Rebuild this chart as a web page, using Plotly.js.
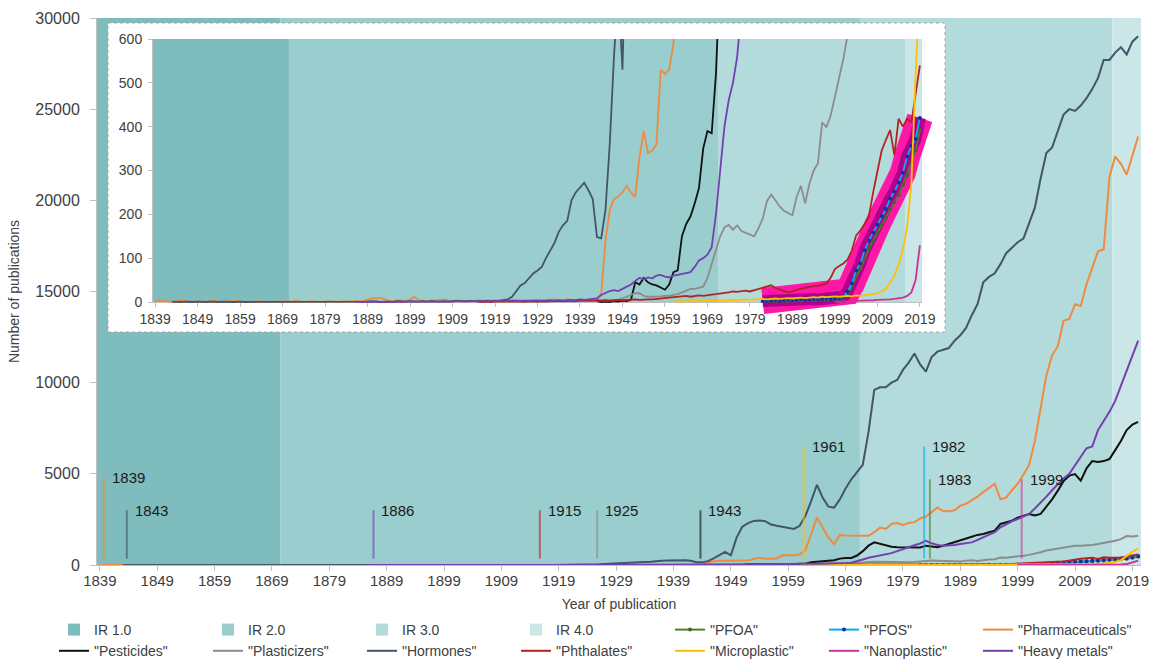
<!DOCTYPE html>
<html><head><meta charset="utf-8">
<script src="https://cdn.plot.ly/plotly-3.0.1.min.js"></script>
<style>html,body{margin:0;padding:0;background:#fff}#chart{width:1160px;height:662px}</style>
</head><body><div id="chart"></div>
<script>
// ---------------- DATA ----------------
const firstYear = 1839, lastYear = 2020, insetLastYear = 2019;
const mainMax = 30000, insetMax = 600;

const irNames = ['IR 1.0', 'IR 2.0', 'IR 3.0', 'IR 4.0'];
const irStart = [1839, 1871, 1972, 2016];
const irEnd   = [1870, 1971, 2015, 2020];

const seriesNames = ['"PFOA"', '"PFOS"', '"Pharmaceuticals"', '"Pesticides"', '"Plasticizers"',
                     '"Hormones"', '"Phthalates"', '"Microplastic"', '"Nanoplastic"', '"Heavy metals"'];
const seriesFirstYear = [1983, 1982, 1839, 1943, 1925, 1843, 1915, 1961, 1999, 1886];

const pfoa = [1,2,2,3,2,3,3,4,3,4, 5,4,5,6,5,6,7,6,9,18, 34,58,76,98,122,140,158,176,192,212,
  228,244,268,290,318,346,392,450];
const pfos = [2,3,3,4,3,4,5,4,5,6, 5,6,7,6,7,8,7,8,9,12, 24,42,72,88,118,140,158,176,196,212,
  236,252,272,295,332,356,372,420,490];
const pharmaceuticals = [
  3,4,3,1,0,1,5,2,0,1,  1,0,1,2,3,1,0,1,2,3,  1,0,1,0,2,1,0,1,1,0,  1,2,0,3,1,0,1,2,1,0,
  1,2,1,0,1,2,1,2,1,3,  5,9,8,10,6,3,2,4,3,2,  5,12,4,3,2,4,3,5,6,3,  2,4,3,2,3,2,4,3,2,3,
  4,3,2,4,3,5,4,3,4,5,  4,3,5,4,6,5,4,6,5,4,  6,5,4,6,8,20,140,210,235,240,
  250,265,250,240,330,390,340,345,360,530,  520,530,590,800,1700,2600,2050,1500,1150,1650,
  1620,1620,1600,1580,1600,1800,2050,1980,2250,2300,  2200,2300,2350,2550,2650,2900,3150,2950,2950,3000,
  3250,3350,3550,3750,4000,4250,4450,3600,3700,4100,  4450,4950,5500,6800,8700,10400,11500,12000,13400,13500,
  14300,14200,15400,16300,17200,17300,21300,22400,22000,21400,  22500,23500];
const pesticides = [
  2,0,1,0,2,1,3,2,5,45,  40,55,45,40,38,32,28,40,68,72,  150,178,195,225,260,350,390,385,520,760,
  1060,1240,1150,1080,1000,980,970,950,940,960,  1060,1020,970,1060,1150,1240,1350,1430,1550,1650,
  1700,1800,1880,2250,2350,2430,2600,2720,2800,2720,  2800,3200,3600,4080,4600,4900,4990,4620,5300,5700,
  5650,5700,5810,6300,6800,7400,7700,7850];
const plasticizers = [
  1,0,1,1,0,1,2,1,1,2,  1,2,2,1,3,2,2,3,3,4,  4,3,4,5,8,12,16,20,20,14,  12,12,12,13,14,14,16,18,22,26,
  30,30,33,35,55,85,120,150,170,176,  165,175,162,158,155,150,168,190,230,245,
  232,218,208,202,198,240,265,225,270,300,  316,410,399,425,470,510,555,610,700,790,
  850,900,970,1010,1060,1050,1060,1100,1150,1200,  1240,1330,1420,1590,1560,1600];
const hormones = [
  1,0,0,1,0,0,1,0,0,1,  0,0,1,0,0,0,1,0,0,1,  0,1,0,0,1,0,0,0,1,0,  0,1,0,0,1,1,0,0,1,0,
  1,0,0,1,1,0,1,2,1,0,  1,1,0,2,1,1,2,1,1,2,  1,2,1,1,2,1,2,2,1,2,  2,1,2,2,3,2,2,3,4,6,
  12,25,38,43,55,65,72,80,100,118,  135,160,175,185,232,250,262,272,255,235,
  148,145,210,360,560,720,530,1500,2100,2300,  2420,2440,2400,2220,2150,2080,2050,1980,2150,2700,
  3500,4400,3700,3200,3150,3600,4200,4700,5100,5500,  7300,9600,9750,9750,10000,10150,10700,11100,11600,11000,
  10600,11400,11700,11800,11900,12300,12600,13000,13700,14300,  15500,15800,16000,16500,17100,17400,17700,17900,18700,19600,
  21200,22600,22900,23800,24700,25000,24900,25200,25600,26100,  26700,27700,27700,28100,28400,28000,28700,29000];
const phthalates = [
  1,0,1,0,1,1,0,1,1,0,  1,1,2,1,1,2,1,2,2,1,  2,2,3,2,3,3,2,3,4,3,  4,3,4,5,4,5,5,6,5,6,
  6,6,7,8,9,10,11,12,13,14,  12,14,15,14,16,17,18,19,21,22,  24,23,25,26,24,27,30,32,35,38,
  32,28,25,22,24,28,30,33,35,36,  37,40,42,55,75,82,88,97,118,152,
  163,178,195,250,300,345,370,392,335,418,  400,418,410,470,540,580];
const microplastic = [
  2,1,2,1,2,3,2,3,2,3,  3,4,3,4,5,4,5,6,5,6,  6,7,6,7,8,7,8,9,8,9,  10,9,10,11,10,12,11,12,13,12,
  13,14,13,15,14,15,16,18,20,24,  30,45,60,85,120,170,270,520,720,900];
const nanoplastic = [1,0,1,1,2,2,3,3,4,4, 5,5,6,6,7,8,10,14,22,50, 130,240];
const heavyMetals = [
  1,0,0,1,0,1,0,0,1,0,  1,0,1,1,0,1,1,0,1,1,  1,1,0,1,2,1,1,2,1,1,  2,1,2,2,1,2,2,3,2,2,
  3,2,3,3,2,3,4,3,4,3,  4,5,4,6,5,6,7,8,16,20,  25,27,25,30,35,40,48,55,52,56,
  54,60,62,58,56,60,62,64,66,68,  80,95,100,108,125,200,300,400,460,500,
  560,650,760,880,980,1080,1180,1330,1190,1100,  1060,1060,1100,1150,1200,1240,1380,1520,1650,1800,
  2070,2250,2400,2520,2650,2800,3100,3400,3750,4100,  4450,4750,5000,5450,5900,6400,6500,7400,7900,8400,
  9000,9800,10700,11400,12300];
const seriesValues = [pfoa, pfos, pharmaceuticals, pesticides, plasticizers,
                      hormones, phthalates, microplastic, nanoplastic, heavyMetals];

// first publication milestones
const milestoneYears = [1839, 1843, 1886, 1915, 1925, 1943, 1961, 1982, 1983, 1999];
const milestoneSeries = [2, 5, 9, 6, 4, 3, 7, 1, 0, 8];

// ---------------- STYLE ----------------
const irColors = ['#7ebcbd', '#99cdce', '#b3dbdb', '#cbe6e6'];
const seriesColors = ['#4f7f2f', '#00b0f0', '#ee8b3f', '#111111', '#8c8c8c',
                      '#44546a', '#b52222', '#ffc000', '#cc3399', '#7440b0'];
const markerColors = ['#3d6b24', '#1f2a9c'];   // PFOA, PFOS markers
const milestoneTop = [4800, 3000, 3000, 3000, 3000, 3000, 6500, 6500, 4700, 4700];
const milestoneBottom = 350, milestoneShift = 0.7;
const FONT = 'Liberation Sans, Arial, sans-serif';
const W = 1160, H = 662;
const fx = p => p / W, fy = p => 1 - p / H;
const MAIN = {l: 97, r: 1141, t: 18, b: 565};
const BOX = {l: 108, r: 945, t: 23, b: 332};
const INS = {l: 153, r: 922, t: 39, b: 302};
const OV = {r: 932, b: 322};

// ---------------- BUILD ----------------
const xsOf = i => seriesValues[i].map((_, k) => seriesFirstYear[i] + k);
const lineTrace = (i, xs, ys, axX, axY, width, legend) => {
  const t = {
    type: 'scatter', mode: i < 2 ? 'lines+markers' : 'lines', name: seriesNames[i],
    x: xs, y: ys, xaxis: axX, yaxis: axY, showlegend: legend,
    line: {color: seriesColors[i], width: width}, hoverinfo: 'x+y+name'
  };
  if (i < 2) t.marker = {color: markerColors[i], size: 4};
  return t;
};
const traces = [];
irNames.forEach((n, i) => traces.push({
  type: 'bar', name: n, x: [(irStart[i] + irEnd[i]) / 2], y: [mainMax],
  width: [irEnd[i] - irStart[i] + 1], marker: {color: irColors[i], line: {width: 0}},
  xaxis: 'x', yaxis: 'y', hoverinfo: 'skip'
}));
seriesNames.forEach((n, i) => traces.push(lineTrace(i, xsOf(i), seriesValues[i], 'x', 'y', 2, true)));
// white inset box subplot holder
traces.push({type: 'scatter', mode: 'markers', x: [], y: [], xaxis: 'x2', yaxis: 'y2', showlegend: false, hoverinfo: 'skip'});
// inset shading
irNames.forEach((n, i) => traces.push({
  type: 'bar', name: n, x: [(irStart[i] + irEnd[i]) / 2], y: [insetMax],
  width: [irEnd[i] - irStart[i] + 1], marker: {color: irColors[i], line: {width: 0}},
  xaxis: 'x3', yaxis: 'y3', hoverinfo: 'skip', showlegend: false
}));
const cut = i => {
  const xs = xsOf(i), ys = seriesValues[i];
  return {x: xs.filter(x => x <= insetLastYear), y: ys.filter((_, k) => xs[k] <= insetLastYear)};
};
// highlight band around PFOS/PFOA in inset
const band = cut(1);
traces.push({type: 'scatter', mode: 'lines', x: band.x, y: band.y, xaxis: 'x4', yaxis: 'y4',
  line: {color: '#ff17a8', width: 26}, showlegend: false, hoverinfo: 'skip'});
traces.push({type: 'scatter', mode: 'lines', x: band.x, y: band.y, xaxis: 'x4', yaxis: 'y4',
  line: {color: '#b0008e', width: 12}, showlegend: false, hoverinfo: 'skip'});
seriesNames.forEach((n, i) => { const c = cut(i); traces.push(lineTrace(i, c.x, c.y, 'x4', 'y4', 1.8, false)); });

const insPxPerYear = (INS.r - INS.l) / (insetLastYear - firstYear + 1);
const insPxPerUnit = (INS.b - INS.t) / insetMax;

const axisCommon = {showgrid: false, zeroline: false, showline: true, linecolor: '#bfbfbf',
  linewidth: 1, ticks: 'outside', ticklen: 5, tickcolor: '#bfbfbf', automargin: false};

const shapes = [
  {type: 'rect', xref: 'x2', yref: 'y2', x0: 0, x1: 1, y0: 0, y1: 1, layer: 'below',
   fillcolor: '#ffffff', line: {width: 0}},
  {type: 'rect', xref: 'paper', yref: 'paper', x0: fx(BOX.l), x1: fx(BOX.r), y0: fy(BOX.b), y1: fy(BOX.t),
   layer: 'above', fillcolor: 'rgba(0,0,0,0)', line: {color: '#a6a6a6', width: 1, dash: 'dot'}}
];
const annotations = [];
milestoneYears.forEach((yr, i) => {
  const xPos = yr + milestoneShift;
  shapes.push({type: 'line', xref: 'x', yref: 'y', x0: xPos, x1: xPos, y0: milestoneBottom, y1: milestoneTop[i],
    layer: 'above', opacity: 0.6, line: {color: seriesColors[milestoneSeries[i]], width: 2}});
  annotations.push({xref: 'x', yref: 'y', x: xPos, y: milestoneTop[i], text: String(yr), showarrow: false,
    xanchor: 'left', yanchor: 'middle', xshift: 6, font: {family: FONT, size: 15, color: '#1a1a1a'}});
});

const layout = {
  width: W, height: H, margin: {l: 0, r: 0, t: 0, b: 0, autoexpand: false},
  paper_bgcolor: '#ffffff', plot_bgcolor: 'rgba(0,0,0,0)',
  font: {family: FONT, color: '#404040'},
  barmode: 'overlay', showlegend: true,
  xaxis: Object.assign({}, axisCommon, {domain: [fx(MAIN.l), fx(MAIN.r)], anchor: 'y',
    range: [firstYear - 0.5, lastYear + 0.5], tickmode: 'linear', tick0: firstYear, dtick: 10,
    tickformat: 'd', tickfont: {family: FONT, size: 15, color: '#404040'}, ticklabelstandoff: -3,
    title: {text: 'Year of publication', font: {family: FONT, size: 14, color: '#404040'}, standoff: 11}}),
  yaxis: Object.assign({}, axisCommon, {domain: [fy(MAIN.b), fy(MAIN.t)], anchor: 'x',
    range: [0, mainMax], tickmode: 'linear', tick0: 0, dtick: 5000, tickformat: 'd',
    tickfont: {family: FONT, size: 16, color: '#404040'}, ticklen: 6, ticklabelstandoff: 7,
    title: {text: 'Number of publications', font: {family: FONT, size: 14, color: '#404040'}, standoff: 12}}),
  xaxis2: {domain: [fx(BOX.l), fx(BOX.r)], anchor: 'y2', range: [0, 1], visible: false, fixedrange: true},
  yaxis2: {domain: [fy(BOX.b), fy(BOX.t)], anchor: 'x2', range: [0, 1], visible: false, fixedrange: true},
  xaxis3: Object.assign({}, axisCommon, {domain: [fx(INS.l), fx(INS.r)], anchor: 'y3',
    range: [firstYear - 0.5, insetLastYear + 0.5], tickmode: 'linear', tick0: firstYear, dtick: 10,
    tickformat: 'd', tickfont: {family: FONT, size: 14, color: '#404040'}, ticklen: 4}),
  yaxis3: Object.assign({}, axisCommon, {domain: [fy(INS.b), fy(INS.t)], anchor: 'x3',
    range: [0, insetMax], tickmode: 'linear', tick0: 0, dtick: 100, tickformat: 'd',
    tickfont: {family: FONT, size: 14, color: '#404040'}, ticklen: 4, ticklabelstandoff: 3}),
  xaxis4: {domain: [fx(INS.l), fx(OV.r)], anchor: 'y4', visible: false, fixedrange: true,
    range: [firstYear - 0.5, insetLastYear + 0.5 + (OV.r - INS.r) / insPxPerYear]},
  yaxis4: {domain: [fy(OV.b), fy(INS.t)], anchor: 'x4', visible: false, fixedrange: true,
    range: [-(OV.b - INS.b) / insPxPerUnit, insetMax]},
  legend: {orientation: 'h', x: fx(54), xanchor: 'left', y: fy(614), yanchor: 'top',
    entrywidth: 109, entrywidthmode: 'pixels', itemwidth: 30, traceorder: 'normal',
    font: {family: FONT, size: 14, color: '#404040'}, bgcolor: 'rgba(0,0,0,0)'},
  shapes: shapes, annotations: annotations
};

Plotly.newPlot('chart', traces, layout, {displayModeBar: false, staticPlot: true});
</script>
</body></html>
